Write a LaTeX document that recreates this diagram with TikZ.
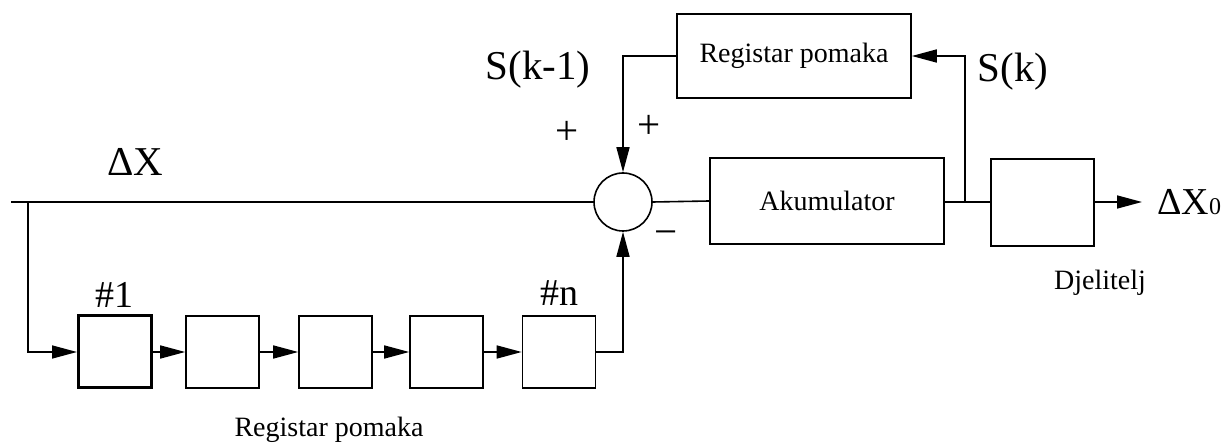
\documentclass[tikz,border=0pt]{standalone}
\usepackage{fontspec}
\setmainfont{Liberation Serif}
\usetikzlibrary{arrows.meta}
\tikzset{
  ln/.style={line width=1.6pt},
  arr/.style={ln,-{Triangle[length=25pt,width=13pt]}},
  cell/.style={draw,ln,minimum width=73pt,minimum height=72pt,inner sep=0pt},
  bigbox/.style={draw,ln,inner sep=0pt},
  big/.style={inner sep=0pt,font=\fontsize{41}{44}\selectfont},
  mid/.style={inner sep=0pt,font=\fontsize{38}{40}\selectfont},
  small/.style={inner sep=0pt,font=\fontsize{28}{32}\selectfont},
}
\begin{document}
\begin{tikzpicture}[x=1pt,y=-1pt]
\useasboundingbox (0,0) rectangle (1227,443);
% nodes
\coordinate (in) at (11,202);
\coordinate (br) at (28,202);
\node[cell,line width=3pt] (r1) at (115,352) {};
\node[cell] (r2) at (222.5,352) {};
\node[cell] (r3) at (335.5,352) {};
\node[cell] (r4) at (446.5,352) {};
\node[cell] (rn) at (559,352) {};
\node[draw,ln,circle,minimum size=58pt,inner sep=0pt] (sum) at (623,202) {};
\node[bigbox,minimum width=234pt,minimum height=86pt,font=\fontsize{28}{32}\selectfont] (acc) at (827,201) {Akumulator};
\node[bigbox,minimum width=234pt,minimum height=84pt,font=\fontsize{28}{32}\selectfont] (treg) at (794,56) {Registar pomaka};
\node[bigbox,minimum width=103pt,minimum height=87pt] (div) at (1042.5,202.5) {};
\coordinate (sp) at (965,202);
\coordinate (out) at (1142,202);
% connectors
\draw[ln] (in) -- (sum.west);
\draw[arr] (br) |- (r1.west);
\draw[arr] (r1) -- (r2);
\draw[arr] (r2) -- (r3);
\draw[arr] (r3) -- (r4);
\draw[arr] (r4) -- (rn);
\draw[arr] (rn.east) -| (sum.south);
\draw[arr] (treg.west) -| (sum.north);
\draw[ln] (sum.east) -- (acc.west);
\draw[ln] (acc.east |- sp) -- (div.west |- sp);
\draw[arr] (sp) |- (treg.east);
\draw[arr] (div.east |- out) -- (out);
% labels
\node[big] (lx) at (135,162) {ΔX};
\node[big] (lsk1) at (538,70) {S(k-1)};
\node[big] (lsk) at (1013,72) {S(k)};
\node[big] (p1) at (567,133) {+};
\node[big] (p2) at (649,127) {+};
\node[big] (m1) at (666,238) {−};
\node[mid] (l1) at (114,295) {\#1};
\node[mid] (ln) at (559,293) {\#n};
\node[mid,anchor=west] (lxo) at (1157,202) {ΔX{\fontsize{24}{24}\selectfont 0}};
\node[small] (ldj) at (1100,283) {Djelitelj};
\node[small] (lreg) at (329,430) {Registar pomaka};
\end{tikzpicture}
\end{document}
